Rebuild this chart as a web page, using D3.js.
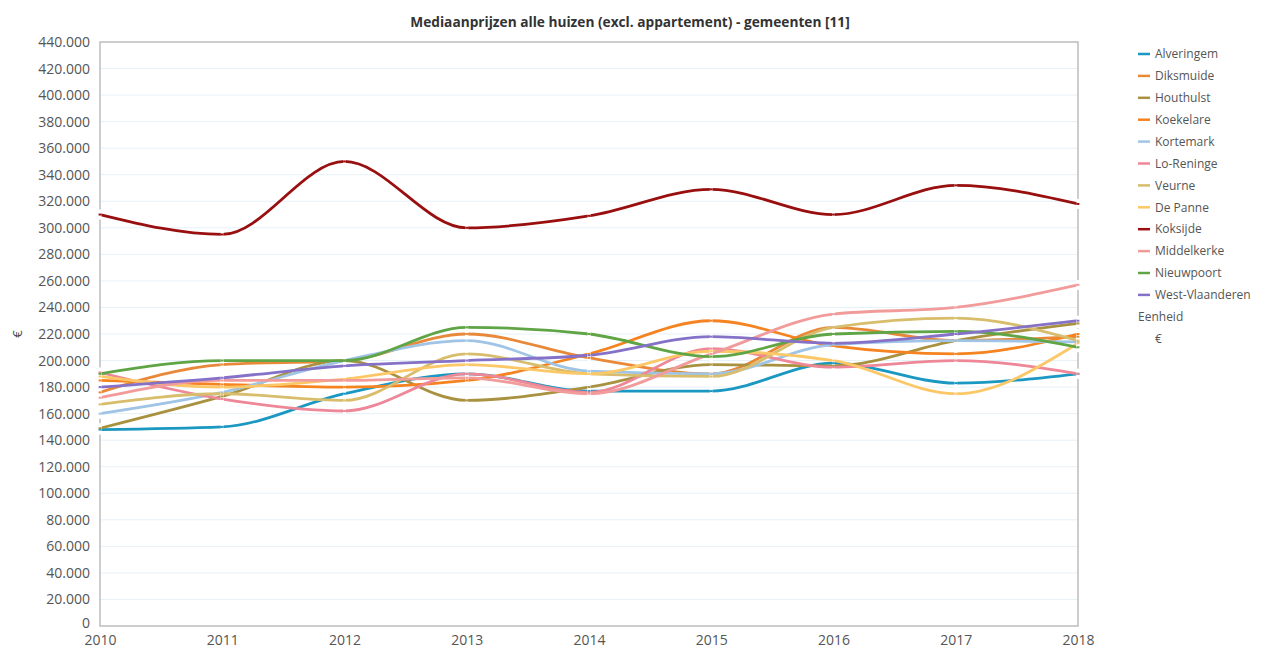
<!DOCTYPE html>
<html>
<head>
<meta charset="utf-8">
<script src="https://cdn.jsdelivr.net/npm/d3@7"></script>
<style>
    body { margin: 0; background: #fff; }
    svg text { font-family: "Open Sans", "Noto Sans", sans-serif; }
</style>
</head>
<body>
<svg></svg>
<script>
const years = [2010, 2011, 2012, 2013, 2014, 2015, 2016, 2017, 2018];
const yTicks = d3.range(0, 440001, 20000);

const names = ['Alveringem', 'Diksmuide', 'Houthulst', 'Koekelare', 'Kortemark', 'Lo-Reninge',
    'Veurne', 'De Panne', 'Koksijde', 'Middelkerke', 'Nieuwpoort', 'West-Vlaanderen'];
const colors = ['#1a98c2', '#e8893a', '#a8913f', '#f5831f', '#9fc4e6', '#ee8797',
    '#d8bd6c', '#fcc766', '#990f10', '#f29b9b', '#5fa545', '#8571c8'];

const alveringem = [148000, 150000, 175000, 190000, 177000, 177000, 198000, 183000, 190000];
const diksmuide = [176000, 197000, 200000, 220000, 202000, 190000, 225000, 215000, 218000];
const houthulst = [149000, 173000, 200000, 170000, 180000, 197000, 196000, 215000, 228000];
const koekelare = [185000, 182000, 180000, 185000, 205000, 230000, 211000, 205000, 220000];
const kortemark = [160000, 176000, 200000, 215000, 192000, 190000, 212000, 215000, 214000];
const loReninge = [191000, 171000, 162000, 190000, 176000, 209000, 195000, 200000, 190000];
const veurne = [167000, 175000, 170000, 205000, 190000, 188000, 225000, 232000, 215000];
const dePanne = [188000, 180000, 186000, 197000, 190000, 207000, 200000, 175000, 213000];
const koksijde = [310000, 295000, 350000, 300000, 309000, 329000, 310000, 332000, 318000];
const middelkerke = [172000, 185000, 185000, 187000, 175000, 205000, 235000, 240000, 257000];
const nieuwpoort = [190000, 200000, 200000, 225000, 220000, 203000, 220000, 222000, 210000];
const westVlaanderen = [180000, 187000, 196000, 200000, 204000, 218000, 213000, 220000, 230000];

const values = [alveringem, diksmuide, houthulst, koekelare, kortemark, loReninge,
    veurne, dePanne, koksijde, middelkerke, nieuwpoort, westVlaanderen];
const series = names.map((name, i) => ({ name: name, color: colors[i], values: values[i] }));

const width = 1263, height = 649;
const margin = { top: 42, right: 185, bottom: 23, left: 100 };

const svg = d3.select('svg')
    .attr('width', width)
    .attr('height', height);

const x = d3.scaleLinear()
    .domain([2010, 2018])
    .range([margin.left, width - margin.right]);
const y = d3.scaleLinear()
    .domain([0, 440000])
    .range([height - margin.bottom, margin.top]);

const fmt = d3.formatLocale({ decimal: ',', thousands: '.', grouping: [3], currency: ['€', ''] }).format(',d');

// grid
svg.append('g')
    .attr('class', 'grid')
    .selectAll('line')
    .data(yTicks.slice(1, -1))
    .enter()
    .append('line')
    .attr('x1', x(2010))
    .attr('x2', x(2018))
    .attr('y1', d => y(d))
    .attr('y2', d => y(d))
    .attr('stroke', '#e6f1f8')
    .attr('stroke-width', 1);

// frame
svg.append('rect')
    .attr('x', x(2010))
    .attr('y', y(440000))
    .attr('width', x(2018) - x(2010))
    .attr('height', y(0) - y(440000))
    .attr('fill', 'none')
    .attr('stroke', '#bdbdbd')
    .attr('stroke-width', 1.5);

// y axis
const yAxis = svg.append('g')
    .attr('transform', `translate(${x(2010)},0)`)
    .call(d3.axisLeft(y).tickValues(yTicks).tickSize(0).tickPadding(10).tickFormat(fmt));
yAxis.select('.domain').remove();
yAxis.selectAll('text')
    .attr('font-size', '14px')
    .attr('fill', '#555');
// lift the zero label a little so it clears the first year label
yAxis.selectAll('.tick')
    .filter(d => d === 0)
    .select('text')
    .attr('dy', '0.1em');

// x axis
const xAxis = svg.append('g')
    .attr('transform', `translate(0,${y(0)})`)
    .call(d3.axisBottom(x).tickValues(years).tickSize(0).tickPadding(9).tickFormat(d3.format('d')));
xAxis.select('.domain').remove();
xAxis.selectAll('text')
    .attr('font-size', '14px')
    .attr('fill', '#555');

// y label
svg.append('text')
    .attr('transform', `translate(22,${(y(0) + y(440000)) / 2}) rotate(-90)`)
    .attr('text-anchor', 'middle')
    .attr('font-size', '13px')
    .attr('fill', '#444')
    .text('€');

// title
svg.append('text')
    .attr('x', 630)
    .attr('y', 27)
    .attr('text-anchor', 'middle')
    .attr('font-size', '13.7px')
    .attr('font-weight', 'bold')
    .attr('fill', '#333')
    .text('Mediaanprijzen alle huizen (excl. appartement) - gemeenten [11]');

// lines
const line = d3.line()
    .x((d, i) => x(years[i]))
    .y(d => y(d))
    .curve(d3.curveMonotoneX);

svg.append('g')
    .attr('class', 'lines')
    .selectAll('path')
    .data(series)
    .enter()
    .append('path')
    .attr('d', s => line(s.values))
    .attr('fill', 'none')
    .attr('stroke', s => s.color)
    .attr('stroke-width', 2.8);

// point markers: white tick with a coloured dot
const points = [];
series.forEach(s => s.values.forEach((v, i) => points.push({ color: s.color, year: years[i], value: v })));

const marks = svg.append('g').attr('class', 'markers');
marks.selectAll('rect.tick')
    .data(points)
    .enter()
    .append('rect')
    .attr('class', 'tick')
    .attr('x', d => x(d.year) - 1.4)
    .attr('y', d => y(d.value) - 5)
    .attr('width', 2.8)
    .attr('height', 10)
    .attr('fill', '#fff');
marks.selectAll('rect.dot')
    .data(points)
    .enter()
    .append('rect')
    .attr('class', 'dot')
    .attr('x', d => x(d.year) - 1.4)
    .attr('y', d => y(d.value) - 1)
    .attr('width', 2.8)
    .attr('height', 2)
    .attr('fill', d => d.color);

// legend
const legend = svg.append('g')
    .attr('class', 'legend')
    .attr('transform', 'translate(1138,54)');
const item = legend.selectAll('g')
    .data(series)
    .enter()
    .append('g')
    .attr('transform', (d, i) => `translate(0,${i * 21.9})`);
item.append('line')
    .attr('x1', 0)
    .attr('x2', 12)
    .attr('stroke', d => d.color)
    .attr('stroke-width', 2.5);
item.append('text')
    .attr('x', 17)
    .attr('dy', '0.35em')
    .attr('font-size', '12px')
    .attr('fill', '#555')
    .text(d => d.name);
legend.append('text')
    .attr('x', 0)
    .attr('y', 12 * 21.9)
    .attr('dy', '0.35em')
    .attr('font-size', '12px')
    .attr('fill', '#555')
    .text('Eenheid');
legend.append('text')
    .attr('x', 17)
    .attr('y', 13 * 21.9)
    .attr('dy', '0.35em')
    .attr('font-size', '12px')
    .attr('fill', '#555')
    .text('€');
</script>
</body>
</html>
